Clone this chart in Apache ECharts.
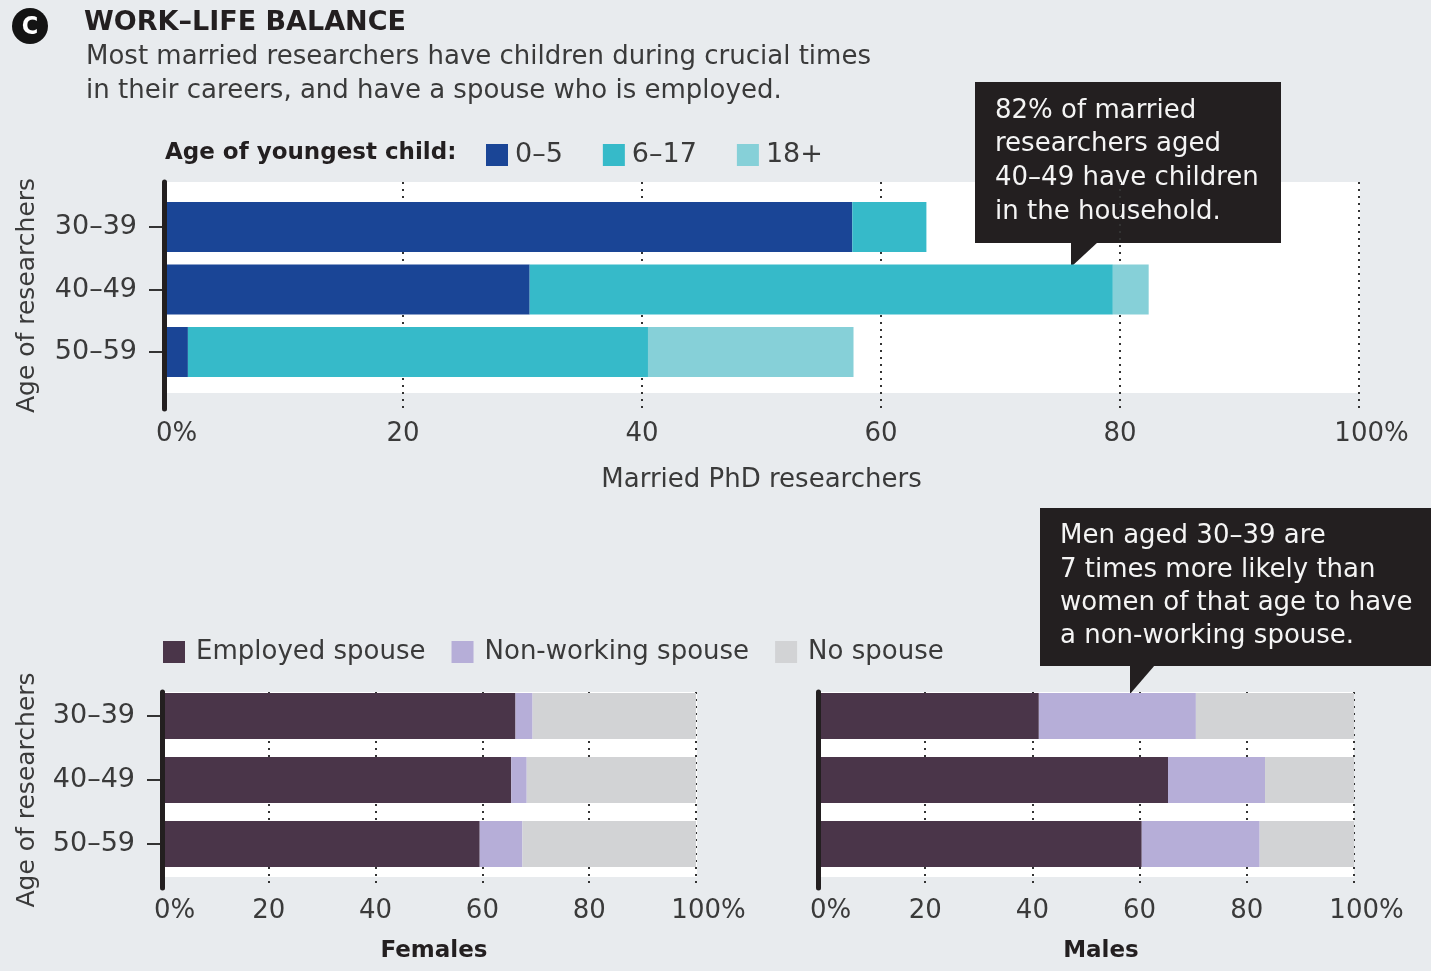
<!DOCTYPE html>
<html>
<head>
<meta charset="utf-8">
<title>Work–life balance</title>
<script src="https://cdn.jsdelivr.net/npm/echarts@6/dist/echarts.min.js"></script>
<style>
  html, body { margin: 0; padding: 0; background: #e8ebee; }
  #chart { width: 1431px; height: 971px; }
</style>
</head>
<body>
<div id="chart"></div>
<script>
// ---- data (percent of married PhD researchers) ----
const ageGroups = ['30–39', '40–49', '50–59'];
const tickLabels = ['0%', '20', '40', '60', '80', '100%'];

// age of youngest child
const childAgeNames = ['0–5', '6–17', '18+'];
const child0to5 = [57.6, 30.6, 2.0];
const child6to17 = [6.2, 48.8, 38.5];
const child18plus = [0, 3.0, 17.2];

// spouse status
const spouseNames = ['Employed spouse', 'Non-working spouse', 'No spouse'];
const femaleEmployed = [66.2, 65.4, 59.5];
const femaleNonWorking = [3.2, 2.9, 8.0];
const femaleNoSpouse = [30.6, 31.7, 32.5];
const maleEmployed = [41.2, 65.3, 60.4];
const maleNonWorking = [29.3, 18.1, 22.0];
const maleNoSpouse = [29.5, 16.6, 17.6];

const FONT = '"DejaVu Sans", "Liberation Sans", sans-serif';
const INK = '#231f20';
const GREY_TEXT = '#3a3a3a';
const childColors = ['#1a4596', '#36bac9', '#86d0d8'];
const spouseColors = ['#4a3549', '#b6aed8', '#d2d3d5'];

const chart = echarts.init(document.getElementById('chart'));

// each panel: white background grid, frame grid (axis line + dotted grid), bar grid
const grids = [
  { left: 167, top: 182, width: 1193, height: 211, show: true },   // top: white
  { left: 164, top: 182, width: 1195, height: 227 },               // top: frame
  { left: 164, top: 195.75, width: 1195, height: 187.5 },          // top: bars
  { left: 163, top: 692, width: 534, height: 185, show: true },    // females: white
  { left: 162, top: 692, width: 534, height: 196 },                // females: frame
  { left: 162, top: 684, width: 534, height: 192 },                // females: bars
  { left: 819, top: 692, width: 535, height: 185, show: true },    // males: white
  { left: 818, top: 692, width: 536, height: 196 },                // males: frame
  { left: 818, top: 684, width: 536, height: 192 }                 // males: bars
].map(g => Object.assign({
  show: false, backgroundColor: '#ffffff', borderWidth: 0,
  containLabel: false, outerBoundsMode: 'none'
}, g));

const hiddenValue = (gi) => ({ gridIndex: gi, type: 'value', min: 0, max: 100, show: false });
const hiddenY = (gi) => ({ gridIndex: gi, type: 'value', min: 0, max: 1, show: false });

// x axis with dotted split lines, tick labels and name
const frameX = (gi, margin, name, nameGap, nameStyle) => ({
  gridIndex: gi, type: 'value', min: 0, max: 100, interval: 20,
  axisLine: { show: false },
  axisTick: { show: false },
  splitLine: { show: true, lineStyle: { color: '#333', width: 2, type: [2, 5] } },
  axisLabel: {
    margin: margin,
    fontSize: 26, color: GREY_TEXT, fontFamily: FONT,
    formatter: (v) => {
      const t = tickLabels[Math.round(v / 20)];
      // keep the number centred on the tick, the % hangs to the right
      return (v === 0 || v === 100) ? '{pc|' + t + '}' : t;
    },
    rich: { pc: { padding: [0, 0, 0, 25], fontSize: 26, color: GREY_TEXT, fontFamily: FONT } }
  },
  name: name, nameLocation: 'middle', nameGap: nameGap,
  nameTextStyle: Object.assign({ fontSize: 26, color: GREY_TEXT, fontFamily: FONT }, nameStyle)
});

// thick black y axis line (+ optional rotated name)
const frameY = (gi, name, nameGap) => ({
  gridIndex: gi, type: 'value', min: 0, max: 1, z: 5,
  axisLine: { show: true, lineStyle: { color: INK, width: 5 } },
  axisTick: { show: false },
  axisLabel: { show: false },
  splitLine: { show: false },
  name: name, nameLocation: 'middle', nameRotate: 90, nameGap: nameGap,
  nameTextStyle: { fontSize: 25, color: GREY_TEXT, fontFamily: FONT }
});

const barY = (gi, withLabels) => ({
  gridIndex: gi, type: 'category', data: ageGroups, inverse: true,
  axisLine: { show: false },
  axisTick: { show: withLabels, alignWithLabel: true, length: 15, lineStyle: { color: '#333', width: 2 } },
  axisLabel: { show: withLabels, fontSize: 27, color: GREY_TEXT, fontFamily: FONT, margin: 27, padding: [0, 0, 6, 0] },
  splitLine: { show: false }
});

const barSeries = (name, data, color, axisIdx, stack, width) => ({
  name: name, type: 'bar', stack: stack, data: data,
  xAxisIndex: axisIdx, yAxisIndex: axisIdx,
  barWidth: width, silent: true,
  itemStyle: { color: color },
  emphasis: { disabled: true }
});

const legendText = (size, pad) => ({ fontSize: size, color: GREY_TEXT, fontFamily: FONT, lineHeight: 30, padding: [0, 0, 0, pad] });

const option = {
  backgroundColor: '#e8ebee',
  animation: false,
  title: [
    { text: 'WORK–LIFE BALANCE', left: 84, top: 8, padding: 0,
      textStyle: { fontSize: 27, fontWeight: 'bold', color: INK, fontFamily: FONT, lineHeight: 30 } },
    { text: 'Most married researchers have children during crucial times\nin their careers, and have a spouse who is employed.',
      left: 86, top: 40, padding: 0,
      textStyle: { fontSize: 26, fontWeight: 'normal', color: GREY_TEXT, fontFamily: FONT, lineHeight: 34 } },
    { text: 'Age of youngest child:', left: 165, top: 138, padding: 0,
      textStyle: { fontSize: 23, fontWeight: 'bold', color: INK, fontFamily: FONT, lineHeight: 30 } }
  ],
  legend: [
    { data: childAgeNames, left: 486, top: 140, padding: 0, icon: 'rect',
      itemWidth: 22, itemHeight: 22, itemGap: 40, selectedMode: false,
      textStyle: legendText(27, 2) },
    { data: spouseNames, left: 163, top: 637, padding: 0, icon: 'rect',
      itemWidth: 22, itemHeight: 22, itemGap: 26, selectedMode: false,
      textStyle: legendText(26, 6) }
  ],
  grid: grids,
  xAxis: [
    hiddenValue(0),
    frameX(1, 12, 'Married PhD researchers', 58, {}),
    hiddenValue(2),
    hiddenValue(3),
    frameX(4, 10, 'Females', 52, { fontWeight: 'bold', fontSize: 23, color: INK, padding: [0, 0, 0, 10] }),
    hiddenValue(5),
    hiddenValue(6),
    frameX(7, 10, 'Males', 52, { fontWeight: 'bold', fontSize: 23, color: INK, padding: [0, 0, 0, 30] }),
    hiddenValue(8)
  ],
  yAxis: [
    hiddenY(0),
    frameY(1, 'Age of researchers', 124),
    barY(2, true),
    hiddenY(3),
    frameY(4, 'Age of researchers', 122),
    barY(5, true),
    hiddenY(6),
    frameY(7, '', 0),
    barY(8, false)
  ],
  series: [
    barSeries(childAgeNames[0], child0to5, childColors[0], 2, 'child', 50),
    barSeries(childAgeNames[1], child6to17, childColors[1], 2, 'child', 50),
    barSeries(childAgeNames[2], child18plus, childColors[2], 2, 'child', 50),
    barSeries(spouseNames[0], femaleEmployed, spouseColors[0], 5, 'female', 46),
    barSeries(spouseNames[1], femaleNonWorking, spouseColors[1], 5, 'female', 46),
    barSeries(spouseNames[2], femaleNoSpouse, spouseColors[2], 5, 'female', 46),
    barSeries(spouseNames[0], maleEmployed, spouseColors[0], 8, 'male', 46),
    barSeries(spouseNames[1], maleNonWorking, spouseColors[1], 8, 'male', 46),
    barSeries(spouseNames[2], maleNoSpouse, spouseColors[2], 8, 'male', 46)
  ],
  // panel badge and the two call-out boxes
  graphic: [
    { type: 'circle', shape: { cx: 30, cy: 26, r: 18 }, style: { fill: '#141414' } },
    { type: 'text', x: 30, y: 27,
      style: { text: 'C', fill: '#ffffff', fontSize: 25, fontWeight: 'bold',
               fontFamily: '"Liberation Sans Narrow", "DejaVu Sans Condensed", sans-serif',
               align: 'center', verticalAlign: 'middle' } },

    { type: 'rect', shape: { x: 975, y: 82, width: 306, height: 161 }, style: { fill: INK } },
    { type: 'polygon', shape: { points: [[1071, 242], [1098, 242], [1071, 267]] }, style: { fill: INK } },
    { type: 'text', x: 995, y: 94,
      style: { text: '82% of married\nresearchers aged\n40–49 have children\nin the household.',
               fill: '#f4f4f4', fontSize: 26, lineHeight: 33.7, fontFamily: FONT, verticalAlign: 'top' } },

    { type: 'rect', shape: { x: 1040, y: 508, width: 391, height: 158 }, style: { fill: INK } },
    { type: 'polygon', shape: { points: [[1130, 665], [1155, 665], [1130, 694]] }, style: { fill: INK } },
    { type: 'text', x: 1060, y: 520,
      style: { text: 'Men aged 30–39 are\n7 times more likely than\nwomen of that age to have\na non-working spouse.',
               fill: '#f4f4f4', fontSize: 26, lineHeight: 33.3, fontFamily: FONT, verticalAlign: 'top' } }
  ]
};

chart.setOption(option);
window.addEventListener('resize', () => chart.resize());
</script>
</body>
</html>
